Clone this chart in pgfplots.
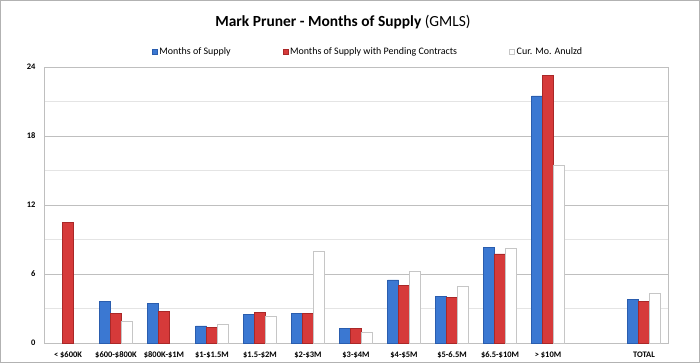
\documentclass[border=0pt]{standalone}
\usepackage{pgfplots}
\pgfplotsset{compat=1.18}
\usepackage{fontspec}
\setmainfont{Carlito}
\definecolor{barblue}{HTML}{3B78D2}
\definecolor{barblued}{HTML}{2A5DAE}
\definecolor{barred}{HTML}{D63A3A}
\definecolor{barredd}{HTML}{A92828}
\definecolor{gridc}{HTML}{BFBFBF}
\definecolor{gridm}{HTML}{E4E4E4}
\begin{document}
\begin{tikzpicture}[x=1bp,y=1bp]
\path[use as bounding box] (0,0) rectangle (700,363);
\draw[gray!60, line width=1bp] (0.5,0.5) rectangle (699.5,362.5);
\node[font=\fontsize{15.5}{17}\selectfont] at (343,341) {\textbf{Mark Pruner - Months of Supply} (GMLS)};
\begin{axis}[
  at={(44bp,20bp)}, anchor=south west,
  width=624bp, height=276bp, scale only axis,
  ybar=0pt, bar width=11bp,
  xmin=-0.5, xmax=12.5,
  ymin=0, ymax=24,
  ytick={0,6,12,18,24},
  minor ytick={3,9,15,21},
  ymajorgrids, yminorgrids,
  major grid style={gridc, line width=0.6bp},
  minor grid style={gridm, line width=0.6bp},
  xtick={0,...,12},
  xticklabels={{< \$600K},{\$600-\$800K},{\$800K-\$1M},{\$1-\$1.5M},{\$1.5-\$2M},{\$2-\$3M},{\$3-\$4M},{\$4-\$5M},{\$5-6.5M},{\$6.5-\$10M},{> \$10M},{},{TOTAL}},
  xtick style={draw=none},
  ytick style={draw=none},
  minor tick length=0pt,
  axis line style={gridc, line width=0.8bp},
  tick label style={font=\fontsize{8.5}{9}\selectfont\bfseries},
  /pgf/number format/assume math mode=true,
  yticklabel style={xshift=-5bp},
  xticklabel style={yshift=-1bp},
  legend style={at={(0.5,1.0)}, anchor=south, xshift=12bp, yshift=7bp, draw=none, fill=none,
    font=\fontsize{10}{11}\selectfont, legend columns=3,
    /tikz/every even column/.append style={column sep=50bp}},
  legend image code/.code={\draw[#1] (0bp,-2.5bp) rectangle (5bp,2.5bp);},
]
\addplot[draw=barblued, line width=0.4bp, fill=barblue] coordinates {
(1,3.6) (2,3.45) (3,1.48) (4,2.52) (5,2.58) (6,1.30) (7,5.48) (8,4.03) (9,8.32) (10,21.48) (12,3.8)};
\addplot[draw=barredd, line width=0.4bp, fill=barred] coordinates {
(0,10.5) (1,2.58) (2,2.75) (3,1.39) (4,2.67) (5,2.55) (6,1.30) (7,5.01) (8,4.0) (9,7.74) (10,23.3) (12,3.65)};
\addplot[draw=gray!45, line width=0.6bp, fill=white] coordinates {
(1,1.9) (3,1.65) (4,2.35) (5,7.94) (6,0.9) (7,6.2) (8,4.93) (9,8.23) (10,15.48) (12,4.32)};
\legend{Months of Supply, Months of Supply with Pending Contracts, Cur. Mo. Anulzd}
\end{axis}
\end{tikzpicture}
\end{document}
